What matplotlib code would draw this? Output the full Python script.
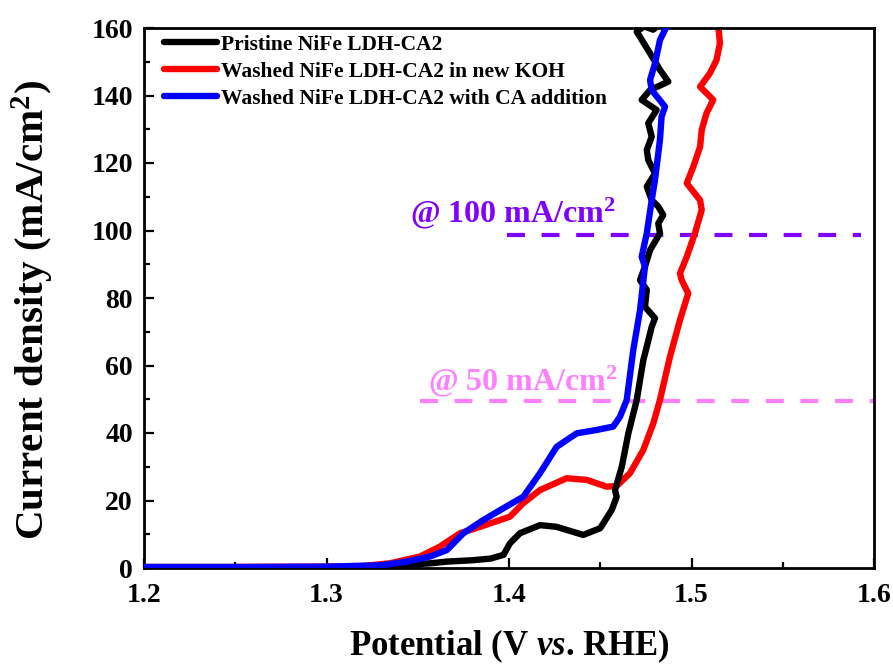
import matplotlib
matplotlib.use("Agg")
import matplotlib.pyplot as plt
from matplotlib.ticker import MultipleLocator

# ---- data ----
pristine_x = [1.200, 1.250, 1.300, 1.330, 1.345, 1.357, 1.366, 1.380, 1.390, 1.397,
              1.4005, 1.406, 1.417, 1.426, 1.4407, 1.450, 1.4563, 1.459, 1.4581, 1.4618,
              1.4654, 1.470, 1.4736, 1.4755, 1.4782, 1.480, 1.4745, 1.4755, 1.4718, 1.4745,
              1.4773, 1.4827, 1.4818, 1.4845, 1.4818, 1.4782, 1.4755, 1.480, 1.4763, 1.4755,
              1.4782, 1.4763, 1.4809, 1.4727, 1.4773, 1.4873, 1.4827, 1.4773, 1.470, 1.474,
              1.479, 1.481]
pristine_y = [0.2, 0.2, 0.2, 0.4, 1.0, 1.4, 1.9, 2.3, 2.8, 3.9,
              7.3, 10.3, 12.7, 12.2, 9.8, 11.8, 17.2, 21.1, 23.1, 30.0,
              39.9, 49.8, 61.6, 65.6, 71.5, 74.0, 77.4, 82.4, 85.3, 89.3,
              94.2, 99.2, 102.1, 104.6, 107.1, 109.0, 113.0, 116.9, 120.9, 123.9,
              127.8, 131.8, 135.7, 138.7, 141.6, 144.1, 147.6, 152.5, 158.9, 160.5,
              159.5, 160.5]

washed_x = [1.200, 1.250, 1.300, 1.320, 1.3348, 1.3512, 1.362, 1.3732, 1.3841, 1.4005,
            1.4078, 1.417, 1.4316, 1.4426, 1.4535, 1.459, 1.4663, 1.4736, 1.4791, 1.4827,
            1.4882, 1.4937, 1.4982, 1.4946, 1.4937, 1.4974, 1.5019, 1.5056, 1.5047, 1.4974,
            1.501, 1.5047, 1.5056, 1.5082, 1.5119, 1.5047, 1.5101, 1.5137, 1.5156, 1.5147]
washed_y = [0.3, 0.3, 0.4, 0.6, 1.4, 3.4, 6.3, 10.3, 12.2, 15.2,
            19.2, 23.1, 26.6, 26.1, 24.1, 24.3, 28.1, 35.0, 42.9, 49.8,
            62.6, 73.5, 81.4, 85.3, 87.3, 92.2, 99.2, 106.1, 109.0, 114.0,
            118.9, 124.8, 129.8, 134.7, 138.7, 142.6, 146.6, 150.5, 155.5, 160.5]

ca_x = [1.200, 1.250, 1.300, 1.330, 1.344, 1.3567, 1.3659, 1.375, 1.3859, 1.3969,
        1.4078, 1.417, 1.4261, 1.4371, 1.448, 1.4571, 1.4608, 1.4645, 1.4681, 1.4718,
        1.4745, 1.4727, 1.4755, 1.4782, 1.480, 1.4827, 1.4836, 1.4855, 1.4782, 1.4773,
        1.480, 1.4827, 1.4864]
ca_y = [0.3, 0.3, 0.4, 0.8, 1.9, 3.4, 5.3, 10.3, 14.2, 17.7,
        21.1, 28.1, 35.9, 39.9, 40.9, 41.9, 44.8, 49.8, 64.6, 76.4,
        89.3, 92.2, 99.2, 109.0, 115.0, 126.8, 133.7, 136.7, 141.6, 144.6,
        149.5, 156.4, 160.5]

labels = ["Pristine NiFe LDH-CA2",
          "Washed NiFe LDH-CA2 in new KOH",
          "Washed NiFe LDH-CA2 with CA addition"]
colors = ["black", "#ff0000", "#0000ff"]

ref_texts = [r"@ 100 mA/cm$^{\mathbf{2}}$", r"@ 50 mA/cm$^{\mathbf{2}}$"]
ref_text_x = [1.3458, 1.3556]
ref_text_y = [102.5, 52.7]
ref_line_y = [98.8, 49.6]
ref_line_x0 = [1.399, 1.351]
ref_line_x1 = [1.593, 1.600]
ref_colors = ["#8000ff", "#ff80ff"]

xticks = [1.2, 1.3, 1.4, 1.5, 1.6]
yticks = [0, 20, 40, 60, 80, 100, 120, 140, 160]

# ---- style ----
plt.rcParams["font.family"] = ["Liberation Serif", "DejaVu Serif"]
plt.rcParams["font.weight"] = "bold"
plt.rcParams["mathtext.fontset"] = "custom"
plt.rcParams["mathtext.rm"] = "Liberation Serif:bold"
plt.rcParams["mathtext.it"] = "Liberation Serif:italic:bold"
plt.rcParams["mathtext.bf"] = "Liberation Serif:bold"

fig = plt.figure(figsize=(8.93, 6.66), dpi=100)
ax = fig.add_axes([144/893, 98/666, 730/893, 540/666])

lw = 4.6
ax.plot(pristine_x, pristine_y, color=colors[0], lw=lw, label=labels[0], zorder=3,
        solid_joinstyle="round", solid_capstyle="round")
ax.plot(washed_x, washed_y, color=colors[1], lw=lw, label=labels[1], zorder=2,
        solid_joinstyle="round", solid_capstyle="round")
ax.plot(ca_x, ca_y, color=colors[2], lw=lw, label=labels[2], zorder=4,
        solid_joinstyle="round", solid_capstyle="round")

for yv, x0, x1, c in zip(ref_line_y, ref_line_x0, ref_line_x1, ref_colors):
    ax.plot([x0, x1], [yv, yv], color=c, lw=3, dashes=(4.3, 4.0), zorder=1)

for t, tx, ty, c in zip(ref_texts, ref_text_x, ref_text_y, ref_colors):
    ax.text(tx, ty, t, color=c, fontsize=23, fontweight="bold", ha="left", va="baseline")

ax.set_xlim(1.2, 1.6)
ax.set_ylim(0, 160)
ax.set_xticks(xticks)
ax.set_yticks(yticks)
ax.set_xticklabels([f"{v:.1f}" for v in xticks])
ax.set_yticklabels([str(v) for v in yticks])
ax.xaxis.set_minor_locator(MultipleLocator(0.05))
ax.yaxis.set_minor_locator(MultipleLocator(10))
ax.tick_params(which="both", direction="in", top=False, right=False, width=1.6)
ax.tick_params(which="major", length=7, labelsize=20)
ax.tick_params(axis="x", which="major", pad=11)
ax.tick_params(axis="y", which="major", pad=8)
ax.tick_params(which="minor", length=4)
for lab in ax.get_xticklabels() + ax.get_yticklabels():
    lab.set_fontweight("bold")
for s in ax.spines.values():
    s.set_linewidth(2)

ax.set_xlabel(r"Potential (V $\mathit{vs}$. RHE)", fontsize=25, fontweight="bold")
ax.xaxis.set_label_coords(0.5, -0.145)
ax.xaxis.label.set_va("center")
ax.set_ylabel("Current density (mA/cm$^{\\mathbf{2}}$)", fontsize=29.5, fontweight="bold")
ax.yaxis.set_label_coords(-(144 - 33) / 730, (568 - 310) / 540)
ax.yaxis.label.set_va("center")

ax.legend(loc="upper left", bbox_to_anchor=(0.018, 1.0), frameon=False,
          prop={"family": "Liberation Serif", "weight": "bold", "size": 15.5},
          handlelength=2.5, handletextpad=0.15, labelspacing=0.33,
          borderaxespad=0.0, borderpad=0.3)

fig.savefig("out.png", dpi=100)
